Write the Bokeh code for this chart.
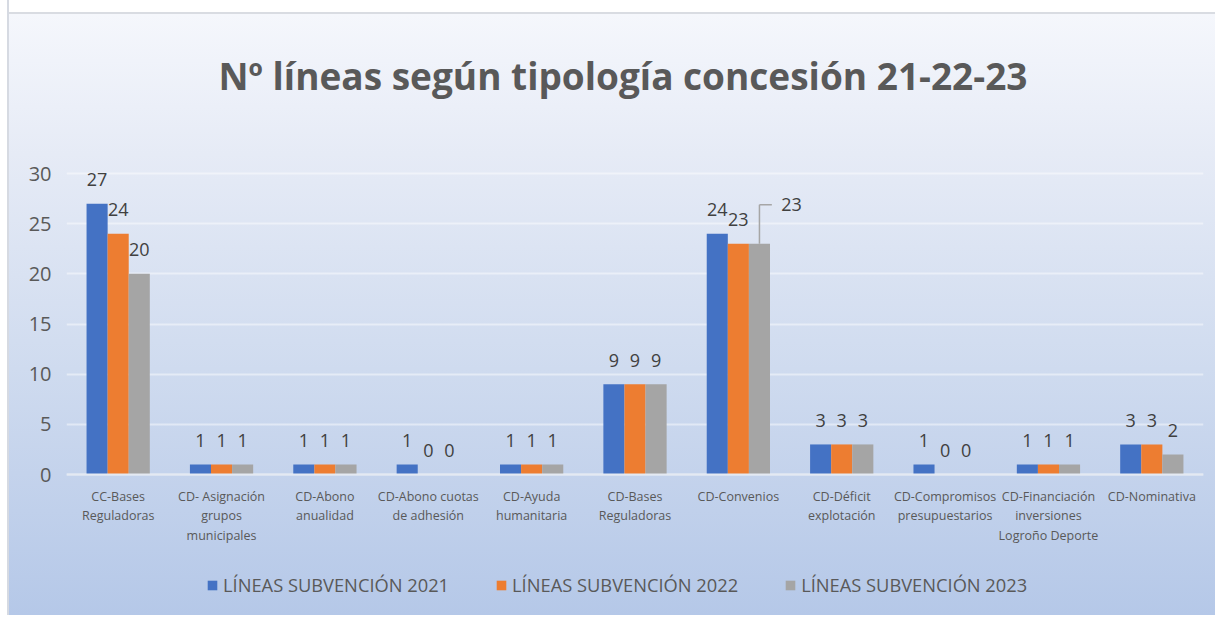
from bokeh.plotting import figure
from bokeh.models import ColumnDataSource, Legend, LegendItem, FactorRange, FixedTicker, Span
from bokeh.transform import dodge
from bokeh.core.properties import value
from bokeh.embed import file_html
from bokeh.resources import INLINE

categories = ["CC-Bases\nReguladoras", "CD- Asignación\ngrupos\nmunicipales", "CD-Abono\nanualidad",
              "CD-Abono cuotas\nde adhesión", "CD-Ayuda\nhumanitaria", "CD-Bases\nReguladoras",
              "CD-Convenios", "CD-Déficit\nexplotación", "CD-Compromisos\npresupuestarios",
              "CD-Financiación\ninversiones\nLogroño Deporte", "CD-Nominativa"]
lineas_2021 = [27, 1, 1, 1, 1, 9, 24, 3, 1, 1, 3]
lineas_2022 = [24, 1, 1, 0, 1, 9, 23, 3, 0, 1, 3]
lineas_2023 = [20, 1, 1, 0, 1, 9, 23, 3, 0, 1, 2]
series_names = ["LÍNEAS SUBVENCIÓN 2021", "LÍNEAS SUBVENCIÓN 2022", "LÍNEAS SUBVENCIÓN 2023"]
y_ticks = [0, 5, 10, 15, 20, 25, 30]
title_text = "Nº líneas según tipología concesión 21-22-23"

FONT = "Open Sans"
colors = ["#4472C4", "#ED7D31", "#A5A5A5"]
W = 0.204
offsets = [-W, 0.0, W]
series = [lineas_2021, lineas_2022, lineas_2023]

# the frame spans title-to-legend; values 0..30 occupy the middle band
Y_LOW, Y_HIGH = -13.75, 45.85
TITLE_Y = 39.8

p = figure(x_range=FactorRange(*categories), y_range=(Y_LOW, Y_HIGH),
           frame_width=1137, frame_height=598,
           output_backend="svg", toolbar_location=None,
           min_border_left=66, min_border_right=12, min_border_top=14, min_border_bottom=3)
p.styles = {
    "background": ("linear-gradient(to right, #ffffff 0px, #ffffff 7px, #d6dae2 7px, #d6dae2 9px, transparent 9px), "
                   "linear-gradient(to bottom, #ffffff 0px, #ffffff 12px, #d9dce2 12px, #d9dce2 14px, "
                   "#f5f7fc 14px, #e6ebf6 25%, #cfdbef 60%, #b5c8e8 100%)"),
}
p.border_fill_alpha = 0
p.background_fill_alpha = 0
p.outline_line_color = None

src = ColumnDataSource(dict(cat=categories, v0=lineas_2021, v1=lineas_2022, v2=lineas_2023))

# grid and baseline
p.xgrid.grid_line_color = None
p.ygrid.ticker = FixedTicker(ticks=y_ticks)
p.ygrid.grid_line_color = "#ffffff"
p.ygrid.grid_line_alpha = 0.45
p.ygrid.grid_line_width = 2
p.add_layout(Span(location=0, dimension="width", line_color="#e4e9f2", line_width=2))

renderers = []
for i in range(3):
    r = p.vbar(x=dodge("cat", offsets[i], range=p.x_range), top=f"v{i}", width=W, source=src,
               fill_color=colors[i], line_color=None)
    renderers.append(r)

# title
p.text(x=[categories[5]], y=[TITLE_Y], text=[title_text], x_offset=-12,
       text_align="center", text_baseline="middle", text_font=value(FONT),
       text_font_size="37px", text_font_style="bold", text_color="#595959")

# category labels under the baseline
p.text(x="cat", y=0, text="cat", source=src, y_offset=13,
       text_align="center", text_baseline="top", text_font=value(FONT),
       text_font_size="12.5px", text_color="#595959", text_line_height=1.16)

# data labels
conv = categories.index("CD-Convenios")
for i in range(3):
    idx = [k for k in range(len(categories)) if not (i == 2 and k == conv)]
    s = ColumnDataSource(dict(cat=[categories[k] for k in idx], v=[series[i][k] for k in idx],
                              t=[str(series[i][k]) for k in idx]))
    p.text(x=dodge("cat", offsets[i], range=p.x_range), y="v", text="t", source=s,
           text_align="center", text_baseline="middle", y_offset=-24,
           text_font=value(FONT), text_font_size="18px", text_color="#404040")

# leader label for 2023 Convenios
lead_up = 3.9
s2 = ColumnDataSource(dict(cat=[categories[conv]], v=[lineas_2023[conv]], vt=[lineas_2023[conv] + lead_up],
                           t=[str(lineas_2023[conv])]))
p.segment(x0=dodge("cat", W, range=p.x_range), x1=dodge("cat", W, range=p.x_range), y0="v", y1="vt",
          source=s2, line_color="#a6a6a6", line_width=1.5)
p.segment(x0=dodge("cat", W, range=p.x_range), x1=dodge("cat", W + 0.12, range=p.x_range), y0="vt", y1="vt",
          source=s2, line_color="#a6a6a6", line_width=1.5)
p.text(x=dodge("cat", W + 0.31, range=p.x_range), y="vt", text="t", source=s2,
       text_align="center", text_baseline="middle",
       text_font=value(FONT), text_font_size="18px", text_color="#404040")

# axes
p.xaxis.visible = False
p.yaxis.ticker = FixedTicker(ticks=y_ticks)
p.yaxis.axis_line_color = None
p.yaxis.major_tick_line_color = None
p.yaxis.minor_tick_line_color = None
p.yaxis.major_label_text_font = FONT
p.yaxis.major_label_text_font_size = "20px"
p.yaxis.major_label_text_color = "#595959"
p.yaxis.major_label_standoff = 9

legend = Legend(items=[LegendItem(label=series_names[i], renderers=[renderers[i]]) for i in range(3)],
                orientation="horizontal", location=(137, 12),
                label_text_font=FONT, label_text_font_size="18.3px", label_text_color="#595959",
                glyph_width=12, glyph_height=12, spacing=46, label_standoff=5, padding=3,
                background_fill_alpha=0, border_line_alpha=0, margin=0)
p.add_layout(legend, "center")

open("out.html", "w").write(file_html(p, INLINE))
